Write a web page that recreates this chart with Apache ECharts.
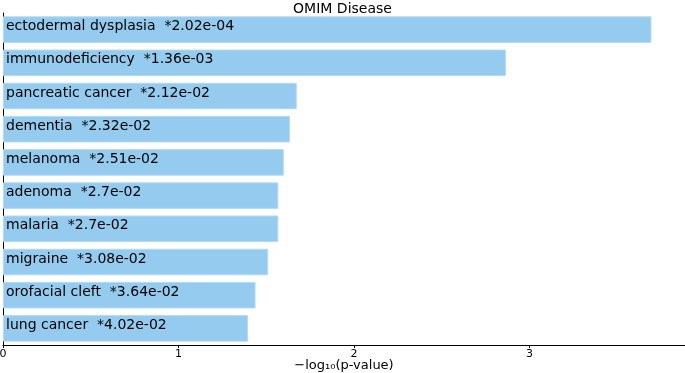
<!DOCTYPE html>
<html>
<head>
<meta charset="utf-8">
<script src="https://cdn.jsdelivr.net/npm/echarts@6/dist/echarts.min.js"></script>
<style>html,body{margin:0;padding:0;background:#fff}#c{width:685px;height:373px}</style>
</head>
<body>
<div id="c"></div>
<script>
const categories = ["ectodermal dysplasia","immunodeficiency","pancreatic cancer","dementia","melanoma","adenoma","malaria","migraine","orofacial cleft","lung cancer"];
const pValueText = ["2.02e-04","1.36e-03","2.12e-02","2.32e-02","2.51e-02","2.7e-02","2.7e-02","3.08e-02","3.64e-02","4.02e-02"];
const negLogP = [3.695, 2.866, 1.674, 1.635, 1.600, 1.569, 1.569, 1.511, 1.439, 1.396];
const xTicks = [0, 1, 2, 3];
const xMax = 3.886;

const FONT = "DejaVu Sans";
const chart = echarts.init(document.getElementById('c'), null, {renderer: 'canvas'});
chart.setOption({
  animation: false,
  title: {
    text: "OMIM Disease", left: 'center', top: -3,
    textStyle: {fontFamily: FONT, fontSize: 14, fontWeight: 'normal', color: '#000'}
  },
  grid: {left: 3, right: 0, top: 13, bottom: 28, containLabel: false, outerBoundsMode: 'none'},
  xAxis: {
    type: 'value', min: 0, max: xMax,
    name: "\u2212log\u2081\u2080(p-value)", nameLocation: 'middle', nameGap: 14, nameMoveOverlap: false,
    nameTextStyle: {fontFamily: FONT, fontSize: 13, color: '#000'},
    axisLine: {show: true, lineStyle: {color: '#000', width: 1}},
    axisTick: {show: true, length: 3, customValues: xTicks, lineStyle: {color: '#000'}},
    axisLabel: {customValues: xTicks, fontFamily: FONT, fontSize: 11, color: '#000', margin: 4},
    splitLine: {show: false}
  },
  yAxis: {
    type: 'category', data: categories, inverse: true,
    axisLine: {show: true, lineStyle: {color: '#000', width: 1}},
    axisTick: {show: false}, axisLabel: {show: false}, splitLine: {show: false}
  },
  series: [{
    type: 'bar',
    data: negLogP,
    barCategoryGap: '20%',
    itemStyle: {color: '#95CBEE', borderColor: '#B4DBF4', borderWidth: 1},
    label: {
      show: true, position: 'insideLeft', offset: [0, -3], distance: 3,
      fontFamily: FONT, fontSize: 14, color: '#000',
      formatter: p => categories[p.dataIndex] + "  *" + pValueText[p.dataIndex]
    }
  }]
});
</script>
</body>
</html>
